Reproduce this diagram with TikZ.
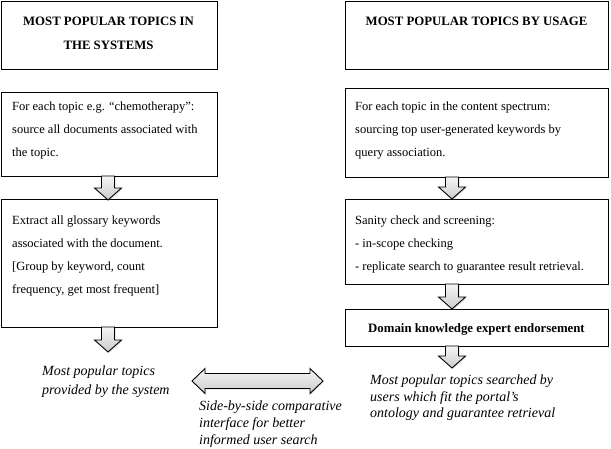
\documentclass[tikz,border=0pt]{standalone}
\usepackage{fontspec}
\setmainfont{Liberation Serif}
\usetikzlibrary{calc,shadows}
\tikzset{
  box/.style={draw=black, line width=0.8pt, fill=white, inner sep=0pt, anchor=north west},
  txt/.style={font=\fontsize{12.5}{23}\selectfont, align=left, inner sep=0pt, anchor=north west},
  ttl/.style={font=\fontsize{12.8}{24}\selectfont\bfseries, align=center, inner sep=0pt, anchor=north},
  itx/.style={font=\fontsize{14}{17}\selectfont\itshape, align=left, inner sep=0pt, anchor=north west},
  blockarrow/.style={draw=black, line width=0.9pt, line join=miter, top color=gray!8, bottom color=gray!40,
    drop shadow={shadow xshift=1pt, shadow yshift=-1pt, opacity=0.25}},
}
\newcommand\dnarrow[3]{%
  \draw[blockarrow] (#1-6.5,#2) -- (#1+6.5,#2) -- (#1+6.5,#3-12) -- (#1+13.5,#3-12) -- (#1,#3)
    -- (#1-13.5,#3-12) -- (#1-6.5,#3-12) -- cycle;}
\begin{document}
\begin{tikzpicture}[x=1pt, y=-1pt]
\useasboundingbox (0,0) rectangle (611,448);
% left column boxes
\node[box, minimum width=216pt, minimum height=68pt] (b1) at (0.5,0.5) {};
\node[box, minimum width=216pt, minimum height=84pt] (b2) at (0.5,92) {};
\node[box, minimum width=216pt, minimum height=128pt] (b3) at (0.5,199) {};
% right column boxes
\node[box, minimum width=263pt, minimum height=68pt] (r1) at (345,0.5) {};
\node[box, minimum width=263pt, minimum height=89pt] (r2) at (345,88) {};
\node[box, minimum width=263pt, minimum height=85pt] (r3) at (345,199) {};
\node[box, minimum width=263pt, minimum height=37pt] (r4) at (345,309) {};
% texts
\node[ttl] (t1) at (108.5,17) {MOST POPULAR TOPICS IN\\THE SYSTEMS};
\node[ttl] (tr1) at (476.5,17) {MOST POPULAR TOPICS BY USAGE};
\node[txt] (t2) at (12,102) {For each topic e.g. “chemotherapy”:\\source all documents associated with\\the topic.};
\node[txt] (t3) at (12,216) {Extract all glossary keywords\\associated with the document.\\{[}Group by keyword, count\\frequency, get most frequent{]}};
\node[txt] (tr2) at (355,102) {For each topic in the content spectrum:\\sourcing top user-generated keywords by\\query association.};
\node[txt] (tr3) at (355,216) {Sanity check and screening:\\- in-scope checking\\- replicate search to guarantee result retrieval.};
\node[ttl] (tr4) at (476.5,323.5) {Domain knowledge expert endorsement};
% arrows
\dnarrow{108}{176}{200}
\dnarrow{108}{327}{352}
\dnarrow{452}{177}{199}
\dnarrow{452}{284}{309}
\dnarrow{452}{346}{368}
\draw[blockarrow] (192,381) -- (205,368.5) -- (205,373.5) -- (310,373.5) -- (310,368.5) -- (323,381)
  -- (310,393.5) -- (310,388.5) -- (205,388.5) -- (205,393.5) -- cycle;
% results
\node[itx, font=\fontsize{14}{19}\selectfont\itshape] (o1) at (42,366) {Most popular topics\\provided by the system};
\node[itx] (o2) at (199,400.5) {Side-by-side comparative\\interface for better\\informed user search};
\node[itx, font=\fontsize{14}{16.5}\selectfont\itshape] (o3) at (370,375) {Most popular topics searched by\\users which fit the portal’s\\ontology and guarantee retrieval};
\end{tikzpicture}
\end{document}
